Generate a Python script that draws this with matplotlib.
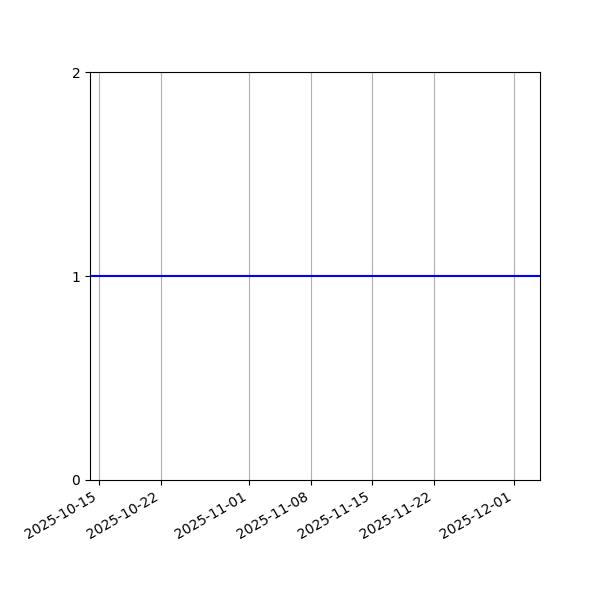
import matplotlib
matplotlib.use("Agg")
import matplotlib.pyplot as plt
import matplotlib.dates as mdates
from datetime import datetime

dates = [datetime(2025, 10, 14), datetime(2025, 12, 4)]
values = [1, 1]
yticks = [0, 1, 2]

fig, ax = plt.subplots(figsize=(6, 6), dpi=100)
fig.subplots_adjust(left=0.15, right=0.9, top=0.88, bottom=0.2)
ax.plot(dates, values, color="blue", linewidth=1.5)
ax.set_xlim(dates[0], dates[-1])
ax.set_ylim(0, 2)
ax.set_yticks(yticks)
ax.xaxis.set_major_locator(mdates.DayLocator(bymonthday=[1, 8, 15, 22]))
ax.xaxis.set_major_formatter(mdates.DateFormatter("%Y-%m-%d"))
ax.grid(True, axis="x")
for lbl in ax.get_xticklabels():
    lbl.set_rotation(30)
    lbl.set_ha("right")
fig.savefig("out.png")
